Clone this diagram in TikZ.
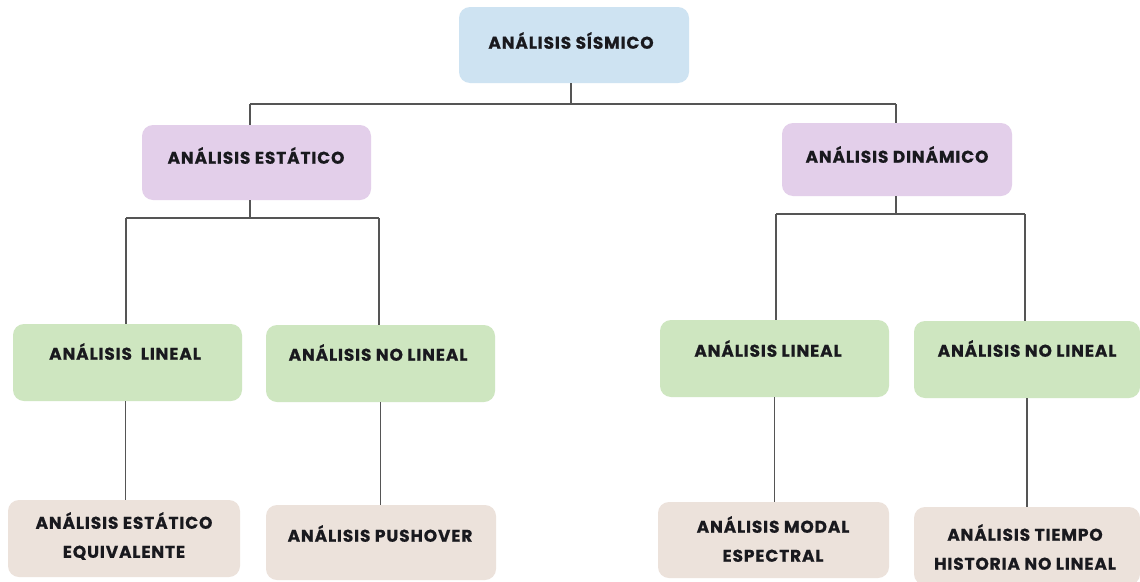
\documentclass[tikz,border=0pt]{standalone}
\usepackage{fontspec}
\setmainfont{Poppins}[LetterSpace=5, BoldFeatures={FakeBold=0.6}]
\usetikzlibrary{calc}
\definecolor{cblue}{RGB}{206,227,242}
\definecolor{cpurple}{RGB}{227,207,234}
\definecolor{cgreen}{RGB}{206,230,192}
\definecolor{cbeige}{RGB}{236,226,219}
\definecolor{cline}{RGB}{85,85,85}
\definecolor{ctext}{RGB}{25,25,30}
\begin{document}
\begin{tikzpicture}[x=1pt,y=-1pt,
  box/.style={rectangle, rounded corners=11pt, draw=none, inner sep=0pt},
  bluebox/.style={box, fill=cblue},
  purplebox/.style={box, fill=cpurple},
  greenbox/.style={box, fill=cgreen},
  beigebox/.style={box, fill=cbeige},
  txt/.style={font=\fontsize{17}{29}\selectfont\bfseries, text=ctext, align=center, inner sep=0pt},
  conn/.style={draw=cline, line width=1.4pt}]
\useasboundingbox[fill=white] (0,0) rectangle (1140,581);
% boxes
\node[bluebox, minimum width=230pt, minimum height=76pt] (top) at (574,45) {};
\node[purplebox, minimum width=229pt, minimum height=75pt] (est) at (256.5,162.5) {};
\node[purplebox, minimum width=230pt, minimum height=73pt] (din) at (897,159.5) {};
\node[greenbox, minimum width=229pt, minimum height=77pt] (linL) at (127.5,362.5) {};
\node[greenbox, minimum width=229pt, minimum height=77pt] (nolinL) at (380.5,363.5) {};
\node[greenbox, minimum width=229pt, minimum height=77pt] (linR) at (774.5,358.5) {};
\node[greenbox, minimum width=226pt, minimum height=77pt] (nolinR) at (1027,359.5) {};
\node[beigebox, minimum width=232pt, minimum height=77pt] (eqv) at (124,538.5) {};
\node[beigebox, minimum width=230pt, minimum height=75pt] (push) at (381,542.5) {};
\node[beigebox, minimum width=231pt, minimum height=76pt] (modal) at (773.5,540) {};
\node[beigebox, minimum width=226pt, minimum height=78pt] (tiempo) at (1027,546) {};
% texts
\node[txt] (topT) at (571,40.5) {ANÁLISIS SÍSMICO};
\node[txt] (estT) at (256,155.5) {ANÁLISIS ESTÁTICO};
\node[txt] (dinT) at (897,154.5) {ANÁLISIS DINÁMICO};
\node[txt] (linLT) at (125,351.5) {ANÁLISIS\ \ LINEAL};
\node[txt] (nolinLT) at (378,352.5) {ANÁLISIS NO LINEAL};
\node[txt] (linRT) at (768,348.5) {ANÁLISIS LINEAL};
\node[txt] (nolinRT) at (1027,348.5) {ANÁLISIS NO LINEAL};
\node[txt] (eqvT) at (124,536) {ANÁLISIS ESTÁTICO\\EQUIVALENTE};
\node[txt] (pushT) at (380,533.5) {ANÁLISIS PUSHOVER};
\node[txt] (modalT) at (773,539) {ANÁLISIS MODAL\\ESPECTRAL};
\node[txt] (tiempoT) at (1025,547) {ANÁLISIS TIEMPO\\HISTORIA NO LINEAL};
% junctions
\coordinate (j0) at (571,104);
\coordinate (jL) at (250,104);
\coordinate (jR) at (896,104);
\coordinate (kL) at (250,218);
\coordinate (kLa) at (126,218);
\coordinate (kLb) at (379,218);
\coordinate (kR) at (896,214);
\coordinate (kRa) at (776,214);
\coordinate (kRb) at (1025,214);
% connectors
\draw[conn] (j0 |- top.south) -- (j0);
\draw[conn] (jL) -- (jR);
\draw[conn] (jL) -- (jL |- est.north);
\draw[conn] (jR) -- (jR |- din.north);
\draw[conn] (kL |- est.south) -- (kL);
\draw[conn] (kLa) -- (kLb);
\draw[conn] (kLa) -- (kLa |- linL.north);
\draw[conn] (kLb) -- (kLb |- nolinL.north);
\draw[conn] (kR |- din.south) -- (kR);
\draw[conn] (kRa) -- (kRb);
\draw[conn] (kRa) -- (kRa |- linR.north);
\draw[conn] (kRb) -- (kRb |- nolinR.north);
\draw[conn] ([xshift=-2pt]linL.south) -- ([xshift=-2pt]linL.south |- eqv.north);
\draw[conn] (nolinL.south) -- (nolinL.south |- push.north);
\draw[conn] (linR.south) -- (linR.south |- modal.north);
\draw[conn] (nolinR.south) -- (nolinR.south |- tiempo.north);
\end{tikzpicture}
\end{document}
